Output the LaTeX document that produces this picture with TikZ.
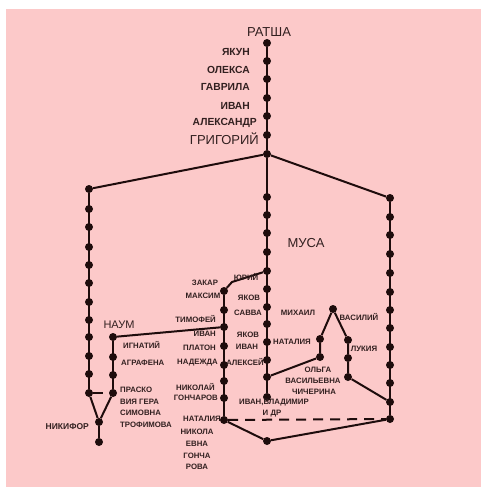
\documentclass[tikz,border=0pt]{standalone}
\usepackage{fontspec}
\setmainfont{Liberation Sans}
\definecolor{bgpink}{RGB}{252,201,201}
\definecolor{ink}{RGB}{30,12,12}
\definecolor{txt}{RGB}{50,32,32}
\begin{document}
\begin{tikzpicture}[x=1pt,y=-1pt,
  dot/.style={circle,fill=ink,inner sep=0pt,minimum size=8pt},
  link/.style={draw=ink,line width=2pt},
  dlink/.style={draw=ink,line width=2pt,dash pattern=on 10pt off 7pt},
  lbl/.style={text=txt,inner sep=0pt,font=\bfseries\fontsize{7.8}{7.8}\selectfont},
  tlbl/.style={text=txt,inner sep=0pt,font=\bfseries\fontsize{10.3}{10.3}\selectfont},
  blbl/.style={text=txt,inner sep=0pt,font=\fontsize{13}{13}\selectfont}]
\path[use as bounding box,fill=white] (0,0) rectangle (481,489);
\fill[bgpink] (6,9) rectangle (481,487);

% main column
\foreach \n/\y in {0/43,1/61,2/79,3/98,4/116,5/135,6/197,7/215,8/233,9/252,10/271,11/289,12/307,13/324,14/342,15/360,16/377,17/397}
  \node[dot] (m\n) at (267,\y) {};
\node[dot] (f) at (267,154) {};
% left column
\foreach \n/\y in {1/189,2/209,3/227,4/247,5/265,6/283,7/302,8/320,9/337,10/356,11/374,12/393}
  \node[dot] (l\n) at (89,\y) {};
% Naum column
\foreach \n/\y in {1/337,2/357,3/375,4/393}
  \node[dot] (n\n) at (113,\y) {};
\node[dot] (v) at (99,422) {};
\node[dot] (b) at (99,442) {};
% second column
\foreach \n/\y in {1/291,2/310,3/327,4/346,5/365,6/381,7/398,8/420}
  \node[dot] (s\n) at (224,\y) {};
% right column
\foreach \n/\y in {1/198,2/217,3/235,4/254,5/273,6/292,7/310,8/328,9/347,10/365,11/383,12/402,13/419}
  \node[dot] (r\n) at (390,\y) {};
% Mikhail branch
\node[dot] (mi) at (333,309) {};
\node[dot] (a1) at (320,339) {};
\node[dot] (a2) at (320,357) {};
\node[dot] (c1) at (348,340) {};
\node[dot] (c2) at (348,358) {};
\node[dot] (c3) at (348,377) {};
\node[dot] (bt) at (267,441) {};
\coordinate (yb) at (232,282);

% connectors
\path[link] (m0) -- (f);
\path[link] (f) -- (l1);
\path[link] (f) -- (r1);
\path[link] (f) -- (m17);
\path[link] (l1) -- (l12);
\path[link] (r1) -- (r13);
\path[link] (n1) -- (n4);
\path[dlink] (l12) -- (n4);
\path[link] (l12) -- (v);
\path[link] (n4) -- (v);
\path[link] (v) -- (b);
\path[link] (n1) -- (s3);
\path[link] (s1) -- (s8);
\path[link] (s1) -- (yb) -- (m10);
\path[link] (m16) -- (a2);
\path[link] (a2) -- (a1) -- (mi) -- (c1) -- (c2) -- (c3) -- (r12);
\path[dlink] (s8) -- (r13);
\path[link] (s8) -- (bt) -- (r13);

% labels: top
\node[blbl] (tRatsha) at (269,32) {РАТША};
\node[tlbl,anchor=east] (tYakun) at (250,52) {ЯКУН};
\node[tlbl,anchor=east] (tOleksa) at (250,70) {ОЛЕКСА};
\node[tlbl,anchor=east] (tGavrila) at (250,87) {ГАВРИЛА};
\node[tlbl,anchor=east] (tIvan1) at (250,106) {ИВАН};
\node[tlbl,anchor=east] (tAleks) at (257,123) {АЛЕКСАНДР};
\node[blbl,anchor=east] (tGrig) at (259,139) {ГРИГОРИЙ};
\node[blbl] (tMusa) at (306,243) {МУСА};
% left part
\node[text=txt,inner sep=0pt,font=\fontsize{11}{11}\selectfont] (tNaum) at (119,325) {НАУМ};
\node[lbl,anchor=west] (tIgn) at (123,345) {ИГНАТИЙ};
\node[lbl,anchor=west] (tAgr) at (121,363) {АГРАФЕНА};
\node[lbl,anchor=west] (tPr1) at (120,390) {ПРАСКО};
\node[lbl,anchor=west] (tPr2) at (120,402) {ВИЯ ГЕРА};
\node[lbl,anchor=west] (tPr3) at (120,413) {СИМОВНА};
\node[lbl,anchor=west] (tPr4) at (120,425) {ТРОФИМОВА};
\node[text=txt,inner sep=0pt,font=\bfseries\fontsize{8.5}{8.5}\selectfont,anchor=east] (tNik) at (89,427) {НИКИФОР};
% second column left
\node[lbl] (tZak) at (205,283) {ЗАКАР};
\node[lbl] (tMaks) at (203,296) {МАКСИМ};
\node[lbl,anchor=east] (tTim) at (216,319) {ТИМОФЕЙ};
\node[lbl,anchor=east] (tIvan2) at (216,334) {ИВАН};
\node[lbl,anchor=east] (tPlat) at (216,348) {ПЛАТОН};
\node[lbl,anchor=east] (tNad) at (218,363) {НАДЕЖДА};
\node[lbl,anchor=east] (tNikol) at (215,387) {НИКОЛАЙ};
\node[lbl,anchor=east] (tGonch) at (218,398) {ГОНЧАРОВ};
\node[lbl,anchor=east] (tNat1) at (221,419) {НАТАЛИЯ};
\node[lbl] (tNat2) at (197,432) {НИКОЛА};
\node[lbl] (tNat3) at (197,444) {ЕВНА};
\node[lbl] (tNat4) at (197,456) {ГОНЧА};
\node[lbl] (tNat5) at (197,467) {РОВА};
% between second and main column
\node[lbl] (tYur) at (246,277) {ЮРИЙ};
\node[lbl] (tYak1) at (249,298) {ЯКОВ};
\node[lbl] (tSav) at (248,313) {САВВА};
\node[lbl] (tYak2) at (248,335) {ЯКОВ};
\node[lbl] (tIvan3) at (247,347) {ИВАН};
\node[lbl] (tAlek) at (245,362) {АЛЕКСЕЙ};
\node[lbl] (tIvVl) at (274,403) {ИВАН,ВЛАДИМИР};
\node[lbl] (tIdr) at (272,414) {И ДР};
% right part
\node[lbl] (tMih) at (298,313) {МИХАИЛ};
\node[lbl] (tVas) at (359,317) {ВАСИЛИЙ};
\node[lbl] (tNat6) at (292,342) {НАТАЛИЯ};
\node[lbl] (tLuk) at (364,349) {ЛУКИЯ};
\node[lbl] (tOl1) at (318,370) {ОЛЬГА};
\node[lbl] (tOl2) at (313,381) {ВАСИЛЬЕВНА};
\node[lbl] (tOl3) at (314,392) {ЧИЧЕРИНА};
\end{tikzpicture}
\end{document}
